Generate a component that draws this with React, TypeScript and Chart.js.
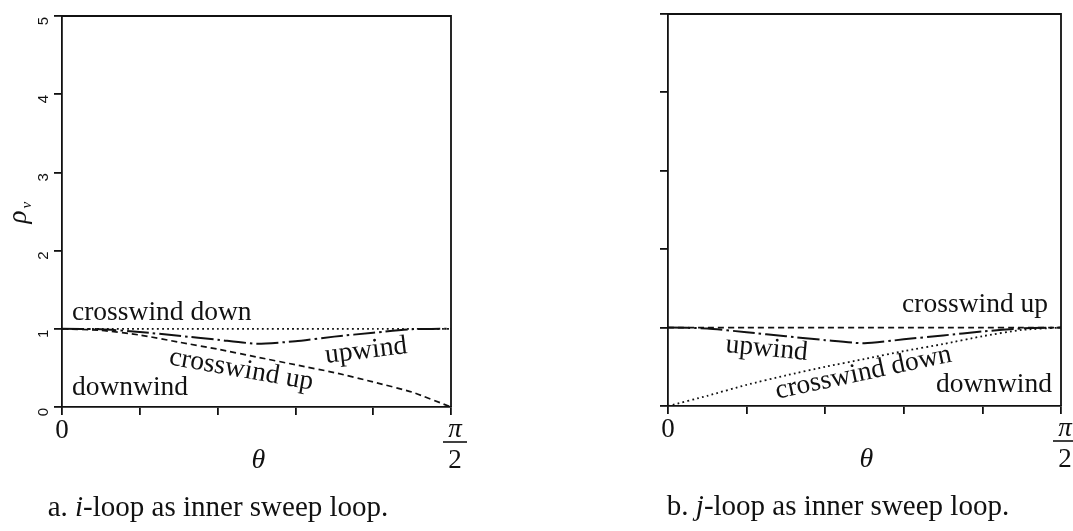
import { useEffect, useRef } from "react";
import { Chart, registerables } from "chart.js";

Chart.register(...registerables);

// θ sampled across [0, π/2], expressed as a fraction of π/2
const thetaSteps = [0, 0.1, 0.2, 0.3, 0.4, 0.5, 0.6, 0.7, 0.8, 0.9, 1.0];
const rhoTicks = [0, 1, 2, 3, 4, 5];

// a. i-loop as inner sweep loop
const iDownwind = [0, 0, 0, 0, 0, 0, 0, 0, 0, 0, 0];
const iCrosswindDown = [1, 1, 1, 1, 1, 1, 1, 1, 1, 1, 1];
const iCrosswindUp = [1.0, 0.98, 0.92, 0.83, 0.74, 0.64, 0.54, 0.44, 0.32, 0.19, 0.0];
const iUpwind = [1.0, 0.995, 0.96, 0.91, 0.86, 0.81, 0.84, 0.9, 0.95, 0.995, 1.0];

// b. j-loop as inner sweep loop
const jDownwind = [0, 0, 0, 0, 0, 0, 0, 0, 0, 0, 0];
const jCrosswindUp = [1, 1, 1, 1, 1, 1, 1, 1, 1, 1, 1];
const jCrosswindDown = [0, 0.13, 0.27, 0.39, 0.5, 0.6, 0.7, 0.79, 0.89, 0.97, 1.0];
const jUpwind = [1.0, 0.99, 0.94, 0.89, 0.84, 0.8, 0.85, 0.9, 0.95, 0.99, 1.0];

const INK = "#111111";
const SERIF = '"Liberation Serif", "DejaVu Serif", serif';
const SANS = '"Liberation Sans", Arial, sans-serif';

type CurveLabel = {
  text: string;
  x: number;
  y: number;
  angle: number;
  align: CanvasTextAlign;
};

type PanelSpec = {
  width: number;
  height: number;
  padding: { left: number; right: number; top: number; bottom: number };
  curves: { name: string; values: number[]; dash: number[]; width: number }[];
  labels: CurveLabel[];
  caption: { letter: string; loopVar: string; x: number };
  showRhoAxis: boolean;
};

const pts = (values: number[]) => thetaSteps.map((t, k) => ({ x: t, y: values[k] }));

function drawText(
  ctx: CanvasRenderingContext2D,
  text: string,
  x: number,
  y: number,
  font: string,
  align: CanvasTextAlign = "center",
  angle = 0
) {
  ctx.save();
  ctx.translate(x, y);
  ctx.rotate((angle * Math.PI) / 180);
  ctx.font = font;
  ctx.textAlign = align;
  ctx.textBaseline = "alphabetic";
  ctx.fillStyle = INK;
  ctx.fillText(text, 0, 0);
  ctx.restore();
}

function makeConfig(spec: PanelSpec): any {
  const decorations = {
    id: "decorations",
    afterDraw(chart: any) {
      const ctx: CanvasRenderingContext2D = chart.ctx;
      const { left, right, top, bottom } = chart.chartArea;
      const xs = chart.scales.x;
      const ys = chart.scales.y;

      // top and right sides of the frame
      ctx.save();
      ctx.strokeStyle = INK;
      ctx.lineWidth = 1.8;
      ctx.beginPath();
      ctx.moveTo(left, top);
      ctx.lineTo(right, top);
      ctx.lineTo(right, bottom);
      ctx.stroke();
      ctx.restore();

      // curve names
      for (const l of spec.labels) {
        drawText(ctx, l.text, l.x, l.y, `27.5px ${SERIF}`, l.align, l.angle);
      }

      // ρ tick labels, rotated to read upward
      if (spec.showRhoAxis) {
        for (const v of rhoTicks) {
          const py = ys.getPixelForValue(v);
          drawText(ctx, String(v), left - 14, py + 5, `15px ${SANS}`, "center", -90);
        }
        ctx.save();
        ctx.translate(left - 36, (top + bottom) / 2 + 4);
        ctx.rotate(-Math.PI / 2);
        ctx.font = `italic 27px ${SERIF}`;
        ctx.fillStyle = INK;
        ctx.textAlign = "left";
        ctx.fillText("ρ", -8, 0);
        ctx.font = `italic 15px ${SERIF}`;
        ctx.fillText("v", 7, 5);
        ctx.restore();
      }

      // θ axis labels
      const x0 = xs.getPixelForValue(0);
      const x1 = xs.getPixelForValue(1);
      drawText(ctx, "0", x0, bottom + 31, `27px ${SERIF}`);
      drawText(ctx, "θ", (x0 + x1) / 2 + 2, bottom + 61, `italic 28px ${SERIF}`);
      const fx = x1 + 4;
      drawText(ctx, "π", fx, bottom + 30, `italic 27px ${SERIF}`);
      ctx.save();
      ctx.strokeStyle = INK;
      ctx.lineWidth = 1.6;
      ctx.beginPath();
      ctx.moveTo(fx - 12, bottom + 35);
      ctx.lineTo(fx + 12, bottom + 35);
      ctx.stroke();
      ctx.restore();
      drawText(ctx, "2", fx, bottom + 61, `27px ${SERIF}`);

      // caption
      const cy = bottom + 109;
      const size = 29;
      const parts: [string, string][] = [
        [`${spec.caption.letter}. `, `${size}px ${SERIF}`],
        [spec.caption.loopVar, `italic ${size}px ${SERIF}`],
        ["-loop as inner sweep loop.", `${size}px ${SERIF}`],
      ];
      ctx.save();
      let total = 0;
      for (const [t, f] of parts) {
        ctx.font = f;
        total += ctx.measureText(t).width;
      }
      let cx = spec.caption.x - total / 2;
      for (const [t, f] of parts) {
        ctx.font = f;
        const w = ctx.measureText(t).width;
        drawText(ctx, t, cx, cy, f, "left");
        cx += w;
      }
      ctx.restore();
    },
  };

  const axisCommon = {
    type: "linear",
    ticks: { display: false },
    grid: {
      drawOnChartArea: false,
      drawTicks: true,
      tickLength: 8,
      color: INK,
      lineWidth: 1.8,
    },
    border: { display: true, color: INK, width: 1.8 },
  };

  return {
    type: "line",
    data: {
      datasets: spec.curves.map((c) => ({
        label: c.name,
        data: pts(c.values),
        borderColor: INK,
        borderWidth: c.width,
        borderDash: c.dash,
        borderCapStyle: "butt",
        pointRadius: 0,
        fill: false,
        tension: 0.2,
      })),
    },
    options: {
      responsive: false,
      animation: false,
      devicePixelRatio: 1,
      layout: { padding: spec.padding },
      plugins: { legend: { display: false }, tooltip: { enabled: false } },
      scales: {
        x: { ...axisCommon, min: 0, max: 1, ticks: { display: false, stepSize: 0.2 } },
        y: { ...axisCommon, min: 0, max: 5, ticks: { display: false, stepSize: 1 } },
      },
    },
    plugins: [decorations],
  };
}

const DOTTED = [1.8, 3.2];
const DASHED = [6, 4];
const DASH_DOT = [22, 4, 2.5, 4];

const panelA: PanelSpec = {
  width: 536,
  height: 531,
  padding: { left: 54, right: 85, top: 16, bottom: 116 },
  curves: [
    { name: "downwind", values: iDownwind, dash: [], width: 1.8 },
    { name: "crosswind down", values: iCrosswindDown, dash: DOTTED, width: 1.8 },
    { name: "crosswind up", values: iCrosswindUp, dash: DASHED, width: 1.7 },
    { name: "upwind", values: iUpwind, dash: DASH_DOT, width: 2 },
  ],
  labels: [
    { text: "crosswind down", x: 72, y: 320, angle: 0, align: "left" },
    { text: "downwind", x: 72, y: 395, angle: 0, align: "left" },
    { text: "crosswind up", x: 240, y: 377, angle: 10, align: "center" },
    { text: "upwind", x: 367, y: 358, angle: -7, align: "center" },
  ],
  caption: { letter: "a", loopVar: "i", x: 218 },
  showRhoAxis: true,
};

const panelB: PanelSpec = {
  width: 537,
  height: 531,
  padding: { left: 124, right: 12, top: 14, bottom: 117 },
  curves: [
    { name: "downwind", values: jDownwind, dash: [], width: 1.8 },
    { name: "crosswind up", values: jCrosswindUp, dash: DASHED, width: 1.7 },
    { name: "crosswind down", values: jCrosswindDown, dash: DOTTED, width: 1.8 },
    { name: "upwind", values: jUpwind, dash: DASH_DOT, width: 2 },
  ],
  labels: [
    { text: "crosswind up", x: 512, y: 312, angle: 0, align: "right" },
    { text: "upwind", x: 230, y: 356, angle: 5.5, align: "center" },
    { text: "crosswind down", x: 329, y: 380, angle: -12, align: "center" },
    { text: "downwind", x: 516, y: 392, angle: 0, align: "right" },
  ],
  caption: { letter: "b", loopVar: "j", x: 302 },
  showRhoAxis: false,
};

export default function App() {
  const aRef = useRef<HTMLCanvasElement>(null);
  const bRef = useRef<HTMLCanvasElement>(null);

  useEffect(() => {
    const charts: Chart[] = [];
    if (aRef.current) charts.push(new Chart(aRef.current, makeConfig(panelA)));
    if (bRef.current) charts.push(new Chart(bRef.current, makeConfig(panelB)));
    return () => charts.forEach((c) => c.destroy());
  }, []);

  return (
    <div>
      <canvas
        ref={aRef}
        width={panelA.width}
        height={panelA.height}
        style={{ position: "absolute", left: 0, top: 0 }}
      />
      <canvas
        ref={bRef}
        width={panelB.width}
        height={panelB.height}
        style={{ position: "absolute", left: 536, top: 0 }}
      />
    </div>
  );
}
